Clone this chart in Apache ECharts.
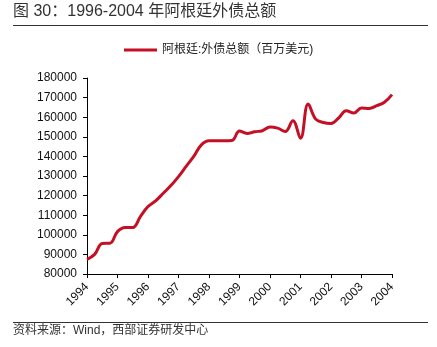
<!DOCTYPE html>
<html>
<head>
<meta charset="utf-8">
<script src="https://cdn.jsdelivr.net/npm/echarts@6/dist/echarts.min.js"></script>
<style>
html,body{margin:0;padding:0;background:#fff;}
#main{width:437px;height:347px;}
</style>
</head>
<body>
<div id="main"></div>
<script>
var quarters = [
  "1994Q1","1994Q2","1994Q3","1994Q4",
  "1995Q1","1995Q2","1995Q3","1995Q4",
  "1996Q1","1996Q2","1996Q3","1996Q4",
  "1997Q1","1997Q2","1997Q3","1997Q4",
  "1998Q1","1998Q2","1998Q3","1998Q4",
  "1999Q1","1999Q2","1999Q3","1999Q4",
  "2000Q1","2000Q2","2000Q3","2000Q4",
  "2001Q1","2001Q2","2001Q3","2001Q4",
  "2002Q1","2002Q2","2002Q3","2002Q4",
  "2003Q1","2003Q2","2003Q3","2003Q4",
  "2004Q1"
];
var externalDebt = [
  87500, 90000, 95600, 95700,
  101600, 103700, 103700, 109300,
  114400, 117300, 121200, 125100,
  129700, 134900, 140000, 145900,
  148000, 148000, 148000, 148100,
  152900, 151700, 152600, 153100,
  155000, 154400, 152700, 158200,
  149300, 166700, 159000, 157300,
  156800, 159600, 163300, 162100,
  164700, 164500, 165900, 167600,
  171500
];
var seriesName = "阿根廷:外债总额（百万美元)";
var titleText = "图 30：1996-2004 年阿根廷外债总额";
var sourceText = "资料来源：Wind，西部证券研发中心";

var chart = echarts.init(document.getElementById('main'), null, {renderer: 'canvas'});
var font = "'Liberation Sans', Arial, 'Noto Sans CJK SC', sans-serif";
chart.setOption({
  animation: false,
  textStyle: {fontFamily: font},
  grid: {left: 87, right: 45, top: 78, bottom: 73, containLabel: false},
  legend: {
    left: 119, top: 39,
    icon: 'rect', itemWidth: 33, itemHeight: 3, itemGap: 4,
    textStyle: {fontSize: 12, color: '#222', fontFamily: font},
    data: [seriesName]
  },
  xAxis: {
    type: 'category',
    data: quarters,
    boundaryGap: false,
    axisLine: {lineStyle: {color: '#000', width: 1}},
    axisTick: {show: true, interval: 3, length: 4, lineStyle: {color: '#000'}},
    axisLabel: {
      interval: 3, rotate: 45, margin: 11, fontSize: 12, color: '#111',
      formatter: function (v) { return v.slice(0, 4); }
    },
    splitLine: {show: false}
  },
  yAxis: {
    type: 'value',
    min: 80000, max: 180000, interval: 10000,
    axisLine: {show: true, lineStyle: {color: '#000', width: 1}},
    axisTick: {show: true, length: 4, lineStyle: {color: '#000'}},
    axisLabel: {fontSize: 12, color: '#111', margin: 10, formatter: function (v) { return String(v); }},
    splitLine: {show: false}
  },
  series: [{
    name: seriesName,
    type: 'line',
    data: externalDebt,
    smooth: 0.4,
    showSymbol: false,
    lineStyle: {color: '#c40f24', width: 3},
    itemStyle: {color: '#c40f24'}
  }],
  graphic: [
    {type: 'text', left: 13, top: 4, style: {text: titleText, fill: '#333', font: "16px 'Liberation Sans', 'Noto Sans CJK SC', sans-serif"}},
    {type: 'line', shape: {x1: 13, y1: 25.5, x2: 428, y2: 25.5}, style: {stroke: '#333', lineWidth: 1}},
    {type: 'line', shape: {x1: 13, y1: 322.5, x2: 428, y2: 322.5}, style: {stroke: '#333', lineWidth: 1}},
    {type: 'text', left: 13, top: 325, style: {text: sourceText, fill: '#333', font: "12px 'Liberation Sans', 'Noto Sans CJK SC', sans-serif"}}
  ]
});
</script>
</body>
</html>
